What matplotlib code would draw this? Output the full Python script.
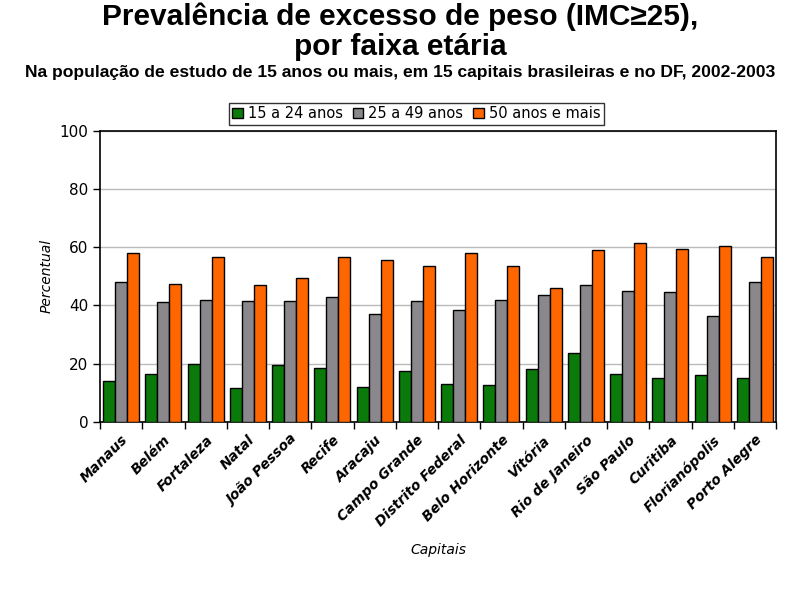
import numpy as np
import matplotlib.pyplot as plt

capitais = ["Manaus", "Belém", "Fortaleza", "Natal", "João Pessoa", "Recife",
            "Aracaju", "Campo Grande", "Distrito Federal", "Belo Horizonte",
            "Vitória", "Rio de Janeiro", "São Paulo", "Curitiba",
            "Florianópolis", "Porto Alegre"]
jovens = [14.1, 16.5, 20.0, 11.5, 19.5, 18.5, 12.0, 17.5, 13.0, 12.5,
          18.0, 23.5, 16.5, 15.0, 16.0, 15.0]
adultos = [48.1, 41.0, 42.0, 41.5, 41.5, 43.0, 37.0, 41.5, 38.5, 42.0,
           43.5, 47.0, 45.0, 44.5, 36.5, 48.0]
idosos = [58.0, 47.5, 56.5, 47.0, 49.5, 56.5, 55.5, 53.5, 58.0, 53.5,
          46.0, 59.0, 61.5, 59.5, 60.5, 56.5]
series_labels = ["15 a 24 anos", "25 a 49 anos", "50 anos e mais"]
cores = ["#0a7a0a", "#8a888c", "#ff6600"]

fig = plt.figure(figsize=(8, 6), dpi=100)
ax = fig.add_axes([0.125, 0.297, 0.845, 0.485])

x = np.arange(len(capitais))
w = 0.285
for i, vals in enumerate([jovens, adultos, idosos]):
    ax.bar(x + (i - 1) * w, vals, w, color=cores[i], edgecolor="black",
           linewidth=1.0, label=series_labels[i], zorder=3)

ax.set_xlim(-0.5, len(capitais) - 0.5)
ax.set_ylim(0, 100)
ax.set_yticks(range(0, 101, 20))
ax.yaxis.grid(True, color="#bbbbbb", linewidth=1, zorder=0)
for s in ax.spines.values():
    s.set_color("black")
    s.set_linewidth(1.2)

ax.set_xticks(x)
ax.set_xticklabels(capitais, rotation=45, ha="right", rotation_mode="anchor",
                   fontsize=10, fontweight="bold", fontstyle="italic")
ax.tick_params(axis="x", length=0, pad=8)
ax.set_xticks(np.arange(-0.5, len(capitais), 1), minor=True)
ax.tick_params(axis="x", which="minor", length=5, width=1, direction="out")
ax.tick_params(axis="y", labelsize=11, length=5, width=1, direction="out")

ax.set_ylabel("Percentual", fontstyle="italic", fontsize=10)
ax.set_xlabel("Capitais", fontstyle="italic", fontsize=10, labelpad=10)

titulo_fonte = ["Liberation Sans", "DejaVu Sans"]
fig.text(0.5, 0.972, "Prevalência de excesso de peso (IMC≥25),",
         ha="center", va="center", fontsize=21.5, fontweight="bold",
         family=titulo_fonte)
fig.text(0.5, 0.922, "por faixa etária",
         ha="center", va="center", fontsize=21.5, fontweight="bold",
         family=titulo_fonte)
fig.text(0.5, 0.879, "Na população de estudo de 15 anos ou mais, em 15 capitais brasileiras e no DF, 2002-2003",
         ha="center", va="center", fontsize=12.6, fontweight="bold",
         family=titulo_fonte)

leg = ax.legend(loc="lower center", bbox_to_anchor=(0.468, 1.02), ncol=3,
                fontsize=10.5, frameon=True, fancybox=False, edgecolor="black",
                handlelength=0.7, handleheight=0.7, handletextpad=0.35,
                columnspacing=0.7, borderpad=0.25, borderaxespad=0)
leg.get_frame().set_linewidth(1.0)

fig.savefig("out.png", dpi=100)
